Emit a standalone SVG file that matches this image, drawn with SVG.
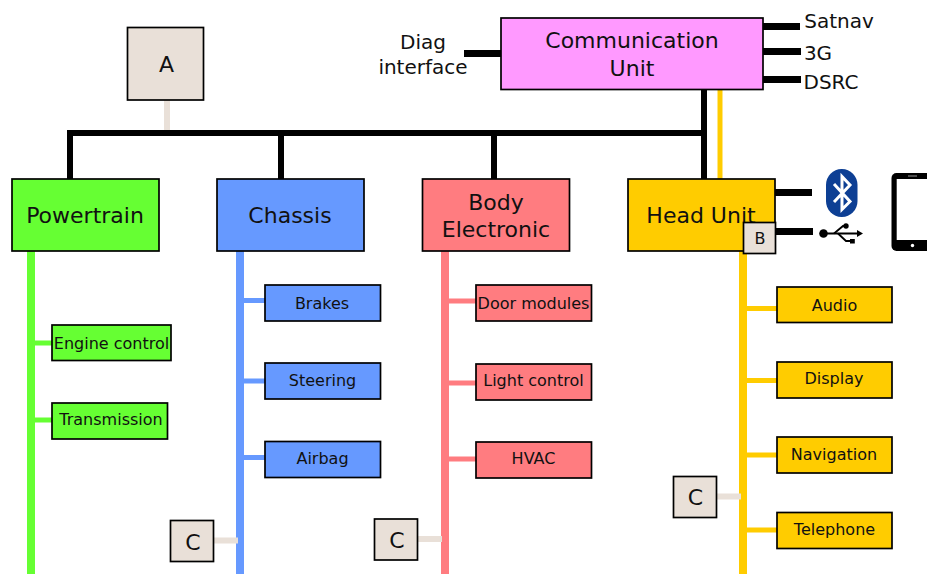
<svg xmlns="http://www.w3.org/2000/svg" width="927" height="574" viewBox="0 0 927 574">
<style>
text{font-family:"DejaVu Sans",sans-serif;fill:#111;text-anchor:middle}
.l{font-size:22px}.m{font-size:20px}.s{font-size:16px}
.b{stroke:#000;stroke-width:1.700}
.k{stroke:#000;fill:none}
.tan{fill:#e9e0d8}.g{fill:#66ff33}.bl{fill:#6699ff}.r{fill:#ff7c80}.y{fill:#ffcc00}.p{fill:#ff99ff}
</style>
<g id="connectors" fill="none">
<path class="k" stroke-width="6" d="M70 179V133H704"/>
<path class="k" stroke-width="6" d="M281 133V179M494 133V179M704 90V179"/>
<path class="k" stroke-width="7" d="M464 53.500H501M763 26.500H800M763 51.500H801M763 79.500H801M775 192.500H812M775 231.500H813"/>
<path stroke="#ffcc00" stroke-width="5" d="M720 90V179"/>
<path stroke="#e9e0d8" stroke-width="6" d="M167 100V130"/>
<path stroke="#66ff33" stroke-width="8" d="M31 251V574"/>
<path stroke="#66ff33" stroke-width="5" d="M35 343H52M35 420H52"/>
<path stroke="#6699ff" stroke-width="8" d="M240 251V574"/>
<path stroke="#6699ff" stroke-width="5" d="M244 300.500H265M244 381H265M244 457.500H265"/>
<path stroke="#ff7c80" stroke-width="8" d="M445 251V574"/>
<path stroke="#ff7c80" stroke-width="5" d="M449 301H476M449 383H476M449 459H476"/>
<path stroke="#ffcc00" stroke-width="8" d="M743 251V574"/>
<path stroke="#ffcc00" stroke-width="5" d="M747 308.500H777M747 380.500H777M747 455H777M747 530H777"/>
<path stroke="#e9e0d8" stroke-width="6" d="M214 540.500H238M418 539H442M717 496.500H741"/>
</g>
<g id="comm"><rect class="b p" x="501" y="18" width="262" height="71.500"/><text class="l" x="632" y="48">Communication</text><text class="l" x="632" y="76">Unit</text></g>
<g id="diag"><text class="m" x="423" y="49">Diag</text><text class="m" x="423" y="74">interface</text></g>
<g id="satnav"><text class="m" x="839" y="28">Satnav</text></g>
<g id="g3"><text class="m" x="818" y="60">3G</text></g>
<g id="dsrc"><text class="m" x="831" y="89">DSRC</text></g>
<g id="a"><rect class="b tan" x="127.500" y="27.500" width="76" height="72.500"/><text class="l" x="166.500" y="72">A</text></g>
<g id="powertrain"><rect class="b g" x="12" y="179" width="147" height="72"/><text class="l" x="85" y="223">Powertrain</text></g>
<g id="chassis"><rect class="b bl" x="217" y="179" width="147" height="72"/><text class="l" x="290" y="223">Chassis</text></g>
<g id="body"><rect class="b r" x="422.500" y="179" width="147" height="72"/><text class="l" x="496" y="210">Body</text><text class="l" x="496" y="237">Electronic</text></g>
<g id="head"><rect class="b y" x="628" y="179" width="147" height="72"/><text class="l" x="701" y="223">Head Unit</text></g>
<g id="b"><rect class="b tan" x="743.500" y="222.500" width="32" height="31"/><text class="s" x="760" y="244">B</text></g>
<g id="engine"><rect class="b g" x="52" y="325" width="119" height="35.500"/><text class="s" x="111.500" y="349">Engine control</text></g>
<g id="transmission"><rect class="b g" x="52" y="403" width="115.500" height="36"/><text class="s" x="111" y="425">Transmission</text></g>
<g id="brakes"><rect class="b bl" x="265" y="285" width="115.500" height="36"/><text class="s" x="322" y="309">Brakes</text></g>
<g id="steering"><rect class="b bl" x="265" y="363" width="115.500" height="36"/><text class="s" x="322.500" y="386">Steering</text></g>
<g id="airbag"><rect class="b bl" x="265" y="441.500" width="115.500" height="36"/><text class="s" x="322.500" y="464">Airbag</text></g>
<g id="door"><rect class="b r" x="476" y="285" width="115.500" height="36"/><text class="s" x="533.500" y="309">Door modules</text></g>
<g id="light"><rect class="b r" x="476" y="364" width="115.500" height="36"/><text class="s" x="533.500" y="386">Light control</text></g>
<g id="hvac"><rect class="b r" x="476" y="442" width="115.500" height="36"/><text class="s" x="533.500" y="464">HVAC</text></g>
<g id="audio"><rect class="b y" x="777" y="287" width="115" height="35.500"/><text class="s" x="834.500" y="311">Audio</text></g>
<g id="display"><rect class="b y" x="777" y="362" width="115" height="36"/><text class="s" x="834" y="384">Display</text></g>
<g id="navigation"><rect class="b y" x="777" y="437" width="115" height="36"/><text class="s" x="834" y="460">Navigation</text></g>
<g id="telephone"><rect class="b y" x="777" y="512.500" width="115" height="36"/><text class="s" x="834.500" y="535">Telephone</text></g>
<g id="c1"><rect class="b tan" x="170.500" y="520.500" width="43" height="41"/><text class="l" x="193" y="550">C</text></g>
<g id="c2"><rect class="b tan" x="374.500" y="519" width="43" height="41"/><text class="l" x="397" y="548">C</text></g>
<g id="c3"><rect class="b tan" x="673.500" y="476.500" width="43" height="41"/><text class="l" x="695.500" y="505">C</text></g>
<g id="bluetooth">
<rect x="826" y="169" width="31.500" height="48" rx="15.500" ry="16" fill="#0d3f94"/>
<path d="M834 184L850 201.500L842 209.500V176.500L850 185L834 202" fill="none" stroke="#fff" stroke-width="3"/>
</g>
<g id="usb" fill="#000" stroke="#000">
<circle cx="823.500" cy="233.500" r="4.300" stroke="none"/>
<path d="M824 233.500H858" stroke-width="1.800"/>
<path d="M857 230L863 233.500L857 237Z" stroke="none"/>
<path d="M834 233.500L843 226H846M838 233.500L846 241H851" fill="none" stroke-width="1.800"/>
<circle cx="846" cy="226" r="2.700" stroke="none"/>
<rect x="850" y="239" width="4.800" height="4.500" stroke="none"/>
</g>
<g id="tablet">
<rect x="891.500" y="173" width="50" height="78" rx="5" fill="#000"/>
<rect x="896.700" y="179" width="42" height="61" fill="#fff"/>
<circle cx="912.500" cy="245.500" r="1.700" fill="#fff"/>
<rect x="908" y="175.500" width="9" height="1" fill="#999"/>
</g>
</svg>
